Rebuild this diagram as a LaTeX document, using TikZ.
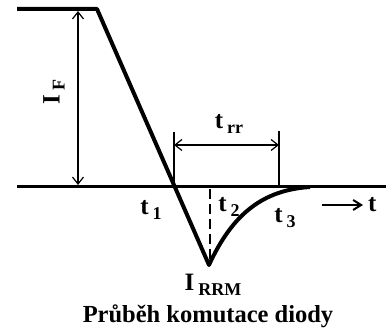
\documentclass[tikz,border=0pt]{standalone}
\usepackage{fontspec}
\setmainfont{Liberation Serif}
\usetikzlibrary{arrows.meta, positioning}

\newcommand{\lbl}[2]{#1\hspace{4pt}\raisebox{-5pt}{\fontsize{18}{18}\selectfont #2}}

\begin{document}
\begin{tikzpicture}[
    x=1pt, y=-1pt,
    wave/.style={line width=4pt, line join=round},
    axis/.style={line width=3pt},
    guide/.style={line width=1.4pt},
    dim/.style={{Straight Barb[length=7pt,width=11pt]}-{Straight Barb[length=7pt,width=11pt]}, line width=1.2pt},
    txt/.style={font=\fontsize{25}{25}\selectfont\bfseries, inner sep=0pt}
  ]
  \useasboundingbox (0,0) rectangle (392,331);

  % waveform points
  \coordinate (start) at (17,9);
  \coordinate (knee) at (97,9);
  \coordinate (peak) at (209,265);
  \coordinate (tail) at (310,187);
  \coordinate (axisL) at (17,187);
  \coordinate (axisR) at (386,187);

  \draw [axis] (axisL) -- (axisR);
  \draw [wave] (start) -- (knee) -- (peak) .. controls (232,215) and (262,190) .. (tail);

  % forward current
  \coordinate (ifTop) at (78,11);
  \coordinate (ifBot) at (78,185);
  \draw [dim] (ifTop) -- (ifBot);
  \node (lIF) [txt, rotate=90] at (54,92) {\lbl{I}{F}};

  % reverse recovery time
  \coordinate (t1Top) at (174,132);
  \coordinate (t1Bot) at (174,187);
  \coordinate (t3Top) at (279,131);
  \coordinate (t3Bot) at (279,187);
  \draw [guide] (t1Top) -- (t1Bot);
  \draw [guide] (t3Top) -- (t3Bot);
  \coordinate (trrL) at (174,145);
  \coordinate (trrR) at (279,145);
  \draw [dim] (trrL) -- (trrR);
  \node (lTrr) [txt] at (229,124) {\lbl{t}{rr}};

  % peak of reverse current
  \coordinate (dashTop) at (210,189);
  \coordinate (dashBot) at (210,262);
  \draw [guide, dash pattern=on 10pt off 5pt] (dashTop) -- (dashBot);

  % time marks
  \node (lt1) [txt] at (151,210) {\lbl{t}{1}};
  \node (lt2) [txt] at (229,207) {\lbl{t}{2}};
  \node (lt3) [txt] at (285,218) {\lbl{t}{3}};

  % time axis arrow
  \coordinate (tArrL) at (322,205);
  \coordinate (tArrR) at (363,205);
  \draw [-{Straight Barb[length=8pt,width=10pt]}, line width=2pt] (tArrL) -- (tArrR);
  \node (lt) [txt, right=5pt of tArrR] {t};

  \node (lIrrm) [txt] at (213,285) {\lbl{I}{RRM}};
  \node (title) [txt, font=\fontsize{24.5}{24.5}\selectfont\bfseries] at (208,316) {Průběh komutace diody};
\end{tikzpicture}
\end{document}
